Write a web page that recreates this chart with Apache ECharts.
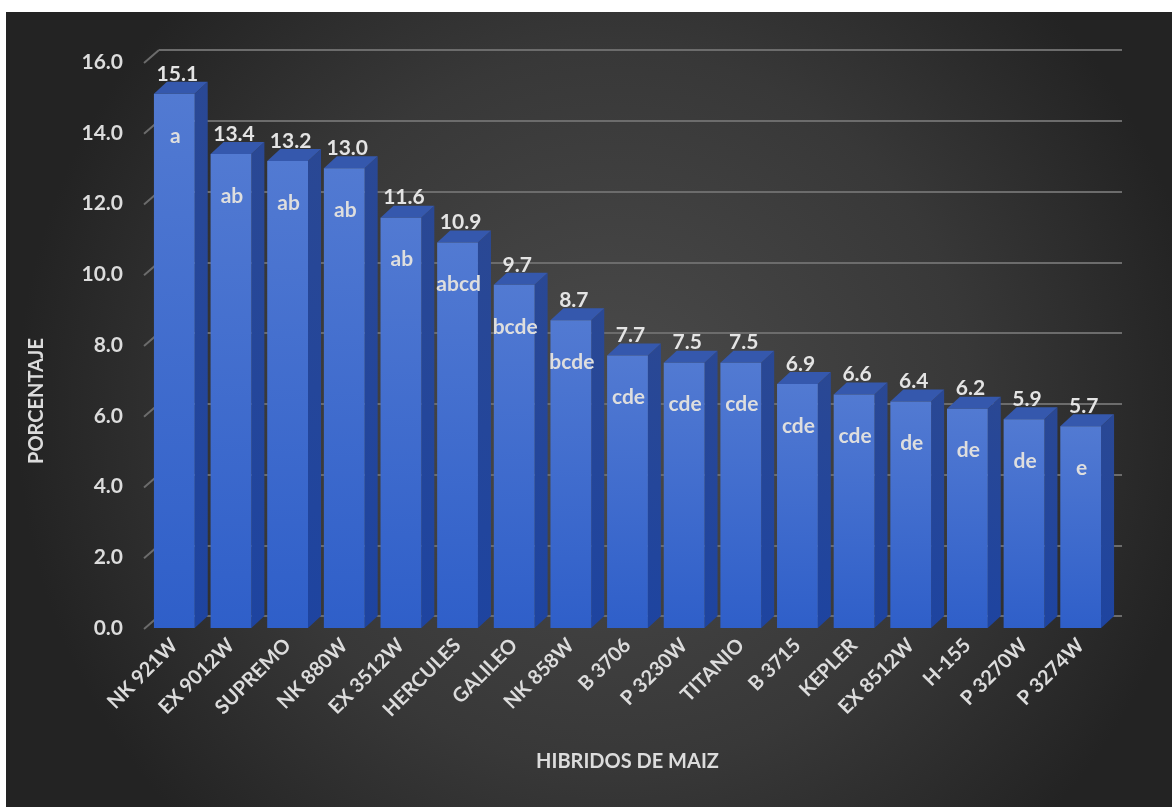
<!DOCTYPE html>
<html>
<head>
<meta charset="utf-8">
<script src="https://cdn.jsdelivr.net/npm/echarts@6/dist/echarts.min.js"></script>
<style>
  html, body { margin: 0; padding: 0; background: #ffffff; width: 1172px; height: 807px; overflow: hidden; }
  #chart { position: absolute; left: 6px; top: 12px; width: 1166px; height: 795px; }
</style>
</head>
<body>
<div id="chart"></div>
<script>
const categories = ['NK 921W','EX 9012W','SUPREMO','NK 880W','EX 3512W','HERCULES','GALILEO','NK 858W','B 3706','P 3230W','TITANIO','B 3715','KEPLER','EX 8512W','H-155','P 3270W','P 3274W'];
const values = [15.1, 13.4, 13.2, 13.0, 11.6, 10.9, 9.7, 8.7, 7.7, 7.5, 7.5, 6.9, 6.6, 6.4, 6.2, 5.9, 5.7];
const letters = ['a','ab','ab','ab','ab','abcd','bcde','bcde','cde','cde','cde','cde','cde','de','de','de','e'];
const yTicks = [0, 2, 4, 6, 8, 10, 12, 14, 16];
const xTitle = 'HIBRIDOS DE MAIZ';
const yTitle = 'PORCENTAJE';

const FONT = 'Lato';
const TXT = '#dcdcdc';
const DX = 13, DY = 12;

const chart = echarts.init(document.getElementById('chart'));

const option = {
  backgroundColor: {
    type: 'radial', x: 0.52, y: 0.5, r: 0.75,
    colorStops: [
      { offset: 0, color: '#4b4b4b' },
      { offset: 0.6, color: '#383838' },
      { offset: 1, color: '#232323' }
    ]
  },
  animation: false,
  grid: [
    { left: 140, right: 63, top: 50, bottom: 179 },
    { left: 140 + DX, right: 63 - DX, top: 50 - DY, bottom: 179 + DY }
  ],
  xAxis: [
    {
      gridIndex: 0, type: 'category', data: categories,
      axisLine: { show: false }, axisTick: { show: false },
      axisLabel: { rotate: 45, margin: 14, color: TXT, fontFamily: FONT, fontWeight: 'bold', fontSize: 20, interval: 0 },
      name: xTitle, nameLocation: 'middle', nameGap: 124,
      nameTextStyle: { color: TXT, fontFamily: FONT, fontWeight: 'bold', fontSize: 20 }
    },
    { gridIndex: 1, type: 'category', data: categories, show: false }
  ],
  yAxis: [
    {
      gridIndex: 0, type: 'value', min: 0, max: 16, interval: 2,
      axisLine: { show: false }, axisTick: { show: false }, splitLine: { show: false },
      axisLabel: { margin: 23, color: TXT, fontFamily: FONT, fontWeight: 'bold', fontSize: 21, formatter: v => v.toFixed(1) }
    },
    {
      gridIndex: 1, type: 'value', min: 0, max: 16, interval: 2,
      axisLine: { show: false }, axisTick: { show: false }, axisLabel: { show: false },
      splitLine: { show: true, lineStyle: { color: '#6c6c6c', width: 2 } }
    }
  ],
  graphic: [
    {
      type: 'text', x: 31, y: 389, rotation: Math.PI / 2,
      style: { text: yTitle, fill: TXT, font: 'bold 20px ' + FONT, textAlign: 'center', textVerticalAlign: 'middle' }
    }
  ],
  series: [
    {
      type: 'custom', xAxisIndex: 0, yAxisIndex: 0,
      data: yTicks.map(v => [0, v]),
      silent: true, z: 1,
      renderItem: function (params, api) {
        const y = api.coord([0, api.value(1)])[1];
        const x0 = params.coordSys.x;
        return {
          type: 'line',
          shape: { x1: x0 - 2, y1: y + 1, x2: x0 + DX, y2: y - DY },
          style: { stroke: '#6c6c6c', lineWidth: 2 }
        };
      }
    },
    {
      type: 'custom', xAxisIndex: 0, yAxisIndex: 0,
      data: values.map((v, i) => [i, v]),
      z: 3,
      renderItem: function (params, api) {
        const i = api.value(0), v = api.value(1);
        const base = api.coord([i, 0]);
        const top = api.coord([i, v]);
        const bw = api.size([1, 0])[0] * 0.72;
        const x = top[0] - bw / 2;
        const yt = top[1], yb = base[1];
        return {
          type: 'group',
          children: [
            {
              type: 'polygon',
              shape: { points: [[x + bw, yt], [x + bw + DX, yt - DY], [x + bw + DX, yb - DY], [x + bw, yb]] },
              style: { fill: new echarts.graphic.LinearGradient(0, 0, 0, 1, [
                { offset: 0, color: '#2a4894' }, { offset: 1, color: '#1e44a0' }]) }
            },
            {
              type: 'polygon',
              shape: { points: [[x, yt], [x + DX, yt - DY], [x + bw + DX, yt - DY], [x + bw, yt]] },
              style: { fill: '#3558ad' }
            },
            {
              type: 'rect',
              shape: { x: x, y: yt, width: bw, height: yb - yt },
              style: { fill: new echarts.graphic.LinearGradient(0, 0, 0, 1, [
                { offset: 0, color: '#527ad2' }, { offset: 1, color: '#2f5fc9' }]) }
            },
            {
              type: 'text', x: top[0] + 3, y: yt - 20,
              style: { text: v.toFixed(1), fill: '#e4e4e4', font: 'bold 21px ' + FONT, textAlign: 'center', textVerticalAlign: 'middle' }
            },
            {
              type: 'text', x: top[0] + 1, y: yt + 42,
              style: { text: letters[i], fill: '#dedede', font: 'bold 21px ' + FONT, textAlign: 'center', textVerticalAlign: 'middle' }
            }
          ]
        };
      }
    }
  ]
};
chart.setOption(option);
</script>
</body>
</html>
